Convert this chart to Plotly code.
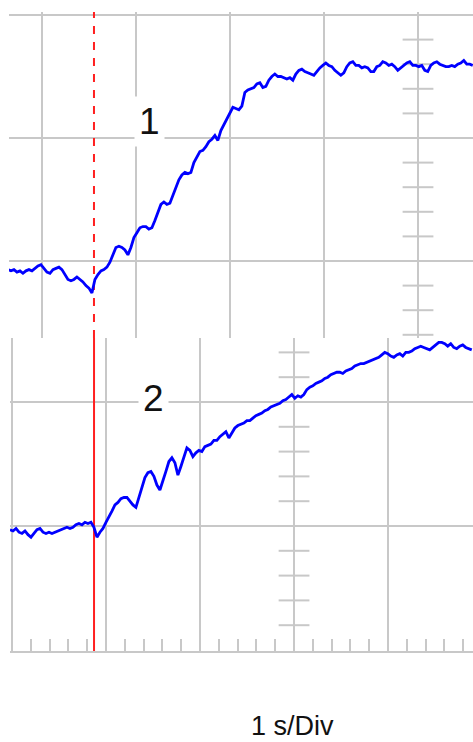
import numpy as np
import plotly.graph_objects as go

# ---- data ----
DT = 0.0319            # sample spacing, s
T0_CH1 = -0.915        # first sample time of channel 1, s (cursor = 0 s)
T0_CH2 = -0.894        # first sample time of channel 2, s

# channel 1 signal, divisions above the lower grid line of panel 1
ch1 = [-0.07, -0.08, -0.07, -0.09, -0.08, -0.10, -0.08, -0.07, -0.08, -0.06,
       -0.04, -0.03, -0.06, -0.09, -0.10, -0.07, -0.06, -0.05, -0.07, -0.11,
       -0.15, -0.16, -0.15, -0.13, -0.15, -0.17, -0.20, -0.22, -0.26,
       -0.15, -0.11, -0.08, -0.07, -0.05, -0.01, 0.05, 0.11, 0.12, 0.11,
       0.09, 0.05, 0.11, 0.19, 0.23, 0.27, 0.28, 0.28, 0.26, 0.27,
       0.33, 0.39, 0.46, 0.48, 0.46, 0.47, 0.53, 0.59, 0.66, 0.70,
       0.72, 0.71, 0.72, 0.80, 0.85, 0.89, 0.90, 0.93, 0.97, 0.99,
       1.02, 0.98,
       1.06, 1.11, 1.16, 1.21, 1.25, 1.24, 1.23, 1.26, 1.37, 1.39,
       1.40, 1.41, 1.44, 1.45, 1.41, 1.42, 1.47, 1.50, 1.52, 1.50,
       1.50, 1.49, 1.48, 1.49, 1.47, 1.52, 1.55, 1.56, 1.54, 1.53,
       1.52, 1.51, 1.54, 1.57, 1.59, 1.61, 1.59, 1.58, 1.55, 1.53,
       1.51, 1.53, 1.58, 1.61, 1.62, 1.59, 1.59, 1.57, 1.58, 1.57,
       1.54, 1.54, 1.58, 1.59, 1.62, 1.61, 1.59, 1.60, 1.58, 1.55,
       1.57, 1.59, 1.61, 1.62, 1.59, 1.59, 1.58, 1.59, 1.55, 1.54,
       1.59, 1.61, 1.62, 1.60, 1.59, 1.58, 1.58, 1.59, 1.58, 1.60,
       1.61, 1.63, 1.60, 1.60, 1.59]

# channel 2 signal, divisions above the middle grid line of panel 2
ch2 = [-0.03, -0.04, -0.02, -0.05, -0.06, -0.04, -0.07, -0.09, -0.06, -0.03,
       -0.02, -0.05, -0.06, -0.05, -0.06, -0.05, -0.04, -0.03, -0.02, -0.01,
       -0.02, -0.01, 0.01, 0.02, 0.01, 0.03, 0.02, 0.03, -0.01, -0.09,
       -0.05, -0.02, 0.03, 0.07, 0.12, 0.17, 0.19, 0.22, 0.23, 0.23,
       0.20, 0.17, 0.15, 0.23, 0.31, 0.39, 0.43, 0.44, 0.40, 0.33,
       0.29, 0.36, 0.44, 0.52, 0.55, 0.51, 0.41, 0.48, 0.56, 0.63,
       0.61, 0.56, 0.59, 0.61, 0.60, 0.64, 0.65, 0.66, 0.69, 0.69,
       0.72, 0.74, 0.76, 0.71, 0.75, 0.79, 0.81, 0.82, 0.83, 0.85,
       0.85, 0.87, 0.89, 0.90, 0.91, 0.93, 0.94, 0.96, 0.97, 0.98,
       0.99, 1.01, 1.02, 1.04, 1.06, 1.03, 1.05, 1.04, 1.06, 1.10,
       1.12, 1.13, 1.15, 1.16, 1.17, 1.19, 1.20, 1.22, 1.23, 1.24,
       1.24, 1.23, 1.25, 1.26, 1.27, 1.29, 1.30, 1.31, 1.31, 1.32,
       1.33, 1.34, 1.35, 1.36, 1.38, 1.40, 1.39, 1.37, 1.36, 1.38,
       1.39, 1.37, 1.40, 1.40, 1.41, 1.43, 1.44, 1.45, 1.44, 1.43,
       1.42, 1.44, 1.46, 1.48, 1.48, 1.47, 1.45, 1.47, 1.44, 1.43,
       1.45, 1.46, 1.44, 1.43, 1.42]

CURSOR_T = 0.0
LABELS = ["1", "2"]
TIMEBASE = "1 s/Div"

t1 = T0_CH1 + DT * np.arange(len(ch1))
t2 = T0_CH2 + DT * np.arange(len(ch2))

GRID = "#c8c8c8"
BLUE = "#0000ff"
RED = "#ff2020"

fig = go.Figure()

# centre-line division ticks (cross marks)
fig.add_trace(go.Scatter(
    x=[3.447] * 14, y=list(np.round(np.arange(2.0, -0.61, -0.2), 2)),
    mode="markers", xaxis="x", yaxis="y", hoverinfo="skip",
    marker=dict(symbol="line-ew", size=22, line=dict(width=2, color=GRID))))
fig.add_trace(go.Scatter(
    x=[2.128] * 12, y=list(np.round(np.arange(1.4, -0.81, -0.2), 2)),
    mode="markers", xaxis="x2", yaxis="y2", hoverinfo="skip",
    marker=dict(symbol="line-ew", size=22, line=dict(width=2, color=GRID))))

# cursor lines
fig.add_trace(go.Scatter(x=[CURSOR_T, CURSOR_T], y=[-0.626, 2.0244], mode="lines",
                         xaxis="x", yaxis="y", hoverinfo="skip",
                         line=dict(color=RED, width=2, dash="8px,8px")))
fig.add_trace(go.Scatter(x=[CURSOR_T, CURSOR_T], y=[-1.008, 1.516], mode="lines",
                         xaxis="x2", yaxis="y2", hoverinfo="skip",
                         line=dict(color=RED, width=2)))

fig.add_trace(go.Scatter(x=t1, y=ch1, mode="lines", xaxis="x", yaxis="y",
                         line=dict(color=BLUE, width=2.8)))
fig.add_trace(go.Scatter(x=t2, y=ch2, mode="lines", xaxis="x2", yaxis="y2",
                         line=dict(color=BLUE, width=2.8)))

H = 742.0
W = 473.0
common = dict(showticklabels=False, zeroline=False, showgrid=True,
              gridcolor=GRID, gridwidth=2)

fig.update_layout(
    width=473, height=742, margin=dict(l=0, r=0, t=0, b=0),
    paper_bgcolor="white", plot_bgcolor="white", showlegend=False,
    xaxis=dict(domain=[9 / W, 1], range=[-0.904, 4.032], tick0=-0.553, dtick=1,
               ticks="", anchor="y", **common),
    yaxis=dict(domain=[1 - 338 / H, 1 - 12 / H], range=[-0.626, 2.0244],
               tick0=0, dtick=1, ticks="", anchor="x", **common),
    xaxis2=dict(domain=[10 / W, 1], range=[-0.894, 4.032], tick0=0.128, dtick=1,
                anchor="y2", showline=True, linecolor=GRID, linewidth=2,
                ticks="inside", ticklen=12, tickwidth=2, tickcolor=GRID,
                minor=dict(tick0=0.128, dtick=0.2, ticks="inside", ticklen=12,
                           tickwidth=2, tickcolor=GRID, showgrid=False),
                **common),
    yaxis2=dict(domain=[1 - 651 / H, 1 - 338 / H], range=[-1.008, 1.516],
                tick0=0, dtick=1, ticks="", anchor="x2", **common),
    annotations=[
        dict(text=LABELS[0], x=0.59, y=1.134, xref="x", yref="y", showarrow=False,
             font=dict(family="Liberation Sans, Arial", size=37, color="#111111"),
             bgcolor="white", borderpad=4),
        dict(text=LABELS[1], x=0.633, y=1.028, xref="x2", yref="y2", showarrow=False,
             font=dict(family="Liberation Sans, Arial", size=37, color="#111111"),
             bgcolor="white", borderpad=4),
        dict(text=TIMEBASE, x=292 / W, y=1 - 726 / H, xref="paper", yref="paper",
             showarrow=False, xanchor="center", yanchor="middle",
             font=dict(family="Liberation Sans, Arial", size=27, color="#111111")),
    ],
)

fig.write_html("out.html", config={"displayModeBar": False},
               post_script="document.body.style.margin='0px';")
